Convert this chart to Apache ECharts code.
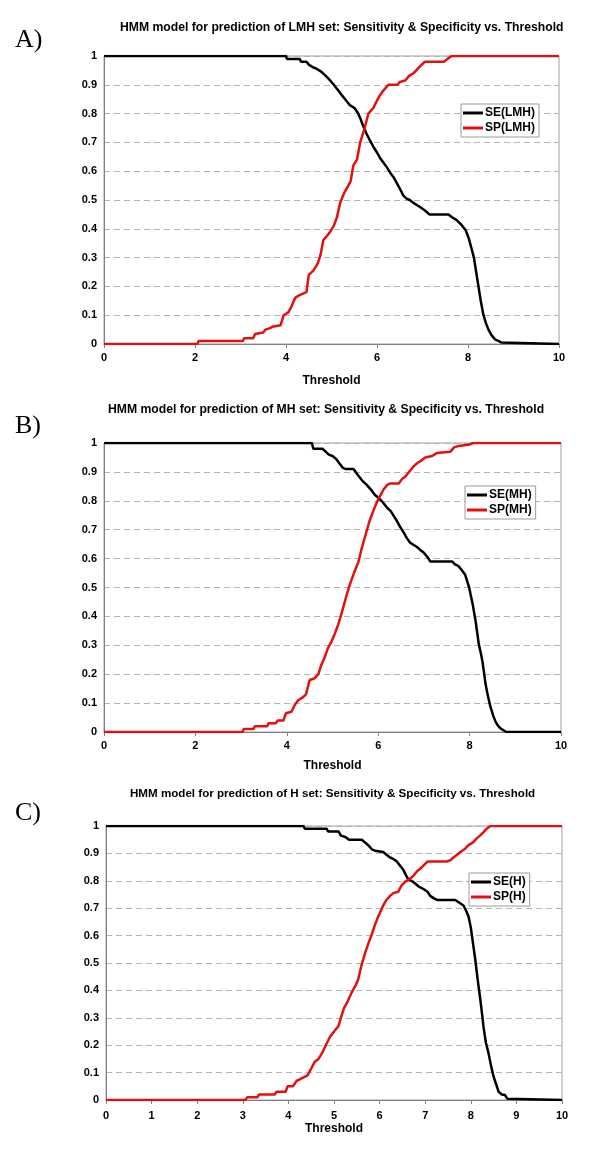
<!DOCTYPE html>
<html>
<head>
<meta charset="utf-8">
<script src="https://cdn.jsdelivr.net/npm/echarts@6/dist/echarts.min.js"></script>
<style>
html,body{margin:0;padding:0;background:#fff;}
#c{width:600px;height:1162px;}
</style>
</head>
<body>
<div id="c"></div>
<script>
// ---- Data (threshold, value) ----
const titles = [
  'HMM model for prediction of LMH set: Sensitivity & Specificity vs. Threshold',
  'HMM model for prediction of MH set: Sensitivity & Specificity vs. Threshold',
  'HMM model for prediction of H set: Sensitivity & Specificity vs. Threshold'
];
const panelLabels = ['A)', 'B)', 'C)'];
const seNames = ['SE(LMH)', 'SE(MH)', 'SE(H)'];
const spNames = ['SP(LMH)', 'SP(MH)', 'SP(H)'];
const xAxisName = 'Threshold';
const xIntervals = [2, 2, 1];

const seLMH = [[0,1],[4.0,1],[4.02,0.99],[4.3,0.99],[4.33,0.98],[4.45,0.98],[4.5,0.97],[4.6,0.96],[4.68,0.955],[4.78,0.945],[4.88,0.93],[4.97,0.915],[5.05,0.90],[5.15,0.88],[5.22,0.865],[5.3,0.85],[5.4,0.83],[5.5,0.82],[5.57,0.805],[5.63,0.785],[5.7,0.755],[5.77,0.73],[5.85,0.705],[5.92,0.685],[6.0,0.665],[6.07,0.645],[6.14,0.63],[6.21,0.615],[6.29,0.595],[6.36,0.58],[6.43,0.56],[6.5,0.54],[6.58,0.515],[6.65,0.505],[6.72,0.50],[6.8,0.49],[6.9,0.48],[7.0,0.47],[7.08,0.46],[7.15,0.45],[7.57,0.45],[7.65,0.44],[7.75,0.43],[7.85,0.415],[7.95,0.395],[8.02,0.365],[8.08,0.33],[8.13,0.30],[8.18,0.25],[8.23,0.20],[8.28,0.15],[8.34,0.10],[8.4,0.07],[8.45,0.05],[8.52,0.03],[8.6,0.015],[8.68,0.01],[8.73,0.005],[8.76,0],[10,0]];
const spLMH = [[0,0],[2.05,0],[2.08,0.01],[3.05,0.01],[3.08,0.02],[3.28,0.02],[3.32,0.035],[3.5,0.04],[3.55,0.05],[3.65,0.055],[3.7,0.06],[3.88,0.065],[3.95,0.10],[4.05,0.11],[4.12,0.13],[4.2,0.16],[4.3,0.17],[4.45,0.18],[4.5,0.24],[4.6,0.255],[4.7,0.28],[4.76,0.31],[4.82,0.36],[4.95,0.385],[5.05,0.41],[5.12,0.44],[5.19,0.49],[5.28,0.525],[5.35,0.545],[5.42,0.565],[5.48,0.62],[5.56,0.64],[5.63,0.70],[5.72,0.745],[5.81,0.80],[5.92,0.82],[6.0,0.845],[6.05,0.86],[6.14,0.88],[6.25,0.90],[6.45,0.90],[6.5,0.91],[6.62,0.915],[6.7,0.93],[6.8,0.94],[6.95,0.965],[7.05,0.98],[7.47,0.98],[7.55,0.99],[7.64,1],[10,1]];
const seMH = [[0,1],[4.55,1],[4.58,0.98],[4.78,0.98],[4.85,0.97],[4.92,0.96],[5.0,0.955],[5.08,0.945],[5.15,0.93],[5.22,0.915],[5.28,0.91],[5.46,0.91],[5.55,0.89],[5.65,0.87],[5.75,0.855],[5.86,0.835],[5.93,0.82],[6.01,0.81],[6.1,0.795],[6.2,0.775],[6.27,0.765],[6.35,0.745],[6.41,0.73],[6.48,0.71],[6.56,0.69],[6.63,0.67],[6.7,0.655],[6.85,0.64],[6.92,0.63],[7.0,0.62],[7.08,0.605],[7.14,0.59],[7.62,0.59],[7.68,0.58],[7.75,0.575],[7.83,0.56],[7.9,0.545],[7.95,0.52],[7.99,0.50],[8.03,0.47],[8.07,0.44],[8.13,0.385],[8.17,0.34],[8.2,0.305],[8.25,0.27],[8.28,0.245],[8.32,0.20],[8.35,0.165],[8.4,0.125],[8.46,0.085],[8.52,0.055],[8.57,0.035],[8.63,0.02],[8.68,0.012],[8.75,0.005],[8.8,0],[10,0]];
const spMH = [[0,0],[3.03,0],[3.06,0.01],[3.27,0.01],[3.3,0.02],[3.57,0.02],[3.6,0.03],[3.76,0.03],[3.8,0.04],[3.93,0.04],[3.98,0.065],[4.1,0.07],[4.18,0.095],[4.25,0.11],[4.35,0.12],[4.42,0.13],[4.5,0.18],[4.6,0.185],[4.69,0.20],[4.75,0.23],[4.82,0.255],[4.9,0.29],[4.97,0.31],[5.05,0.34],[5.12,0.37],[5.17,0.395],[5.25,0.44],[5.32,0.48],[5.39,0.515],[5.47,0.55],[5.57,0.59],[5.63,0.63],[5.72,0.68],[5.8,0.725],[5.88,0.76],[5.97,0.795],[6.05,0.82],[6.12,0.84],[6.2,0.855],[6.26,0.86],[6.45,0.86],[6.52,0.875],[6.6,0.885],[6.7,0.905],[6.78,0.92],[6.85,0.93],[6.95,0.94],[7.03,0.95],[7.18,0.955],[7.28,0.965],[7.58,0.97],[7.66,0.985],[7.76,0.99],[8.0,0.995],[8.08,1],[10,1]];
const seH = [[0,1],[4.33,1],[4.36,0.99],[4.84,0.99],[4.87,0.98],[5.1,0.98],[5.15,0.965],[5.25,0.96],[5.33,0.95],[5.61,0.95],[5.68,0.94],[5.75,0.93],[5.83,0.915],[5.9,0.91],[6.08,0.905],[6.15,0.895],[6.23,0.885],[6.3,0.88],[6.38,0.87],[6.45,0.855],[6.52,0.84],[6.58,0.82],[6.63,0.805],[6.7,0.80],[6.78,0.79],[6.85,0.78],[6.96,0.77],[7.05,0.76],[7.11,0.745],[7.2,0.735],[7.27,0.73],[7.66,0.73],[7.75,0.72],[7.84,0.71],[7.9,0.69],[7.95,0.67],[8.0,0.63],[8.05,0.57],[8.1,0.51],[8.15,0.44],[8.21,0.365],[8.25,0.31],[8.28,0.265],[8.33,0.21],[8.39,0.17],[8.45,0.12],[8.5,0.085],[8.56,0.055],[8.61,0.03],[8.68,0.02],[8.75,0.018],[8.8,0.005],[8.83,0],[10,0]];
const spH = [[0,0],[3.05,0],[3.1,0.01],[3.32,0.01],[3.36,0.02],[3.7,0.02],[3.74,0.03],[3.94,0.03],[3.98,0.05],[4.1,0.05],[4.18,0.07],[4.3,0.08],[4.42,0.09],[4.5,0.115],[4.58,0.14],[4.66,0.15],[4.75,0.175],[4.82,0.20],[4.91,0.23],[5.0,0.25],[5.1,0.27],[5.15,0.30],[5.22,0.335],[5.3,0.36],[5.38,0.39],[5.48,0.42],[5.53,0.44],[5.6,0.49],[5.68,0.535],[5.75,0.57],[5.83,0.605],[5.9,0.64],[5.97,0.67],[6.08,0.71],[6.15,0.73],[6.23,0.745],[6.3,0.755],[6.41,0.76],[6.47,0.78],[6.55,0.795],[6.67,0.808],[6.75,0.82],[6.82,0.835],[6.9,0.845],[6.96,0.855],[7.05,0.87],[7.47,0.87],[7.55,0.875],[7.62,0.885],[7.7,0.895],[7.77,0.905],[7.86,0.915],[7.95,0.93],[8.05,0.94],[8.13,0.955],[8.2,0.965],[8.28,0.978],[8.35,0.99],[8.43,1],[10,1]];

const seSeries = [seLMH, seMH, seH];
const spSeries = [spLMH, spMH, spH];

// ---- Layout ----
const grids = [
  {left:104, top:56, width:455, height:288},
  {left:104, top:443, width:457, height:289},
  {left:106, top:826, width:456, height:274}
];
const titlePos = [{left:120, top:22, size:12.2}, {left:108, top:404, size:12.2}, {left:130, top:788, size:11.6}];
const legendPos = [{left:461, top:104}, {left:465, top:486}, {left:469, top:873}];
const labelPos = [{left:15, top:27}, {left:15, top:413}, {left:15, top:800}];
const nameGaps = [31, 28, 23];
const labelMargins = [8, 8, 10];

const BLACK = '#000000', RED = '#e3100f';
const font = 'Arial, "Liberation Sans", sans-serif';

const option = {
  backgroundColor: '#fff',
  animation: false,
  title: titles.map((t, i) => ({
    text: t, left: titlePos[i].left, top: titlePos[i].top, padding: 0,
    textStyle: {fontFamily: font, fontWeight: 'bold', fontSize: titlePos[i].size, color: '#000'}
  })),
  legend: [0,1,2].map(i => ({
    data: [seNames[i], spNames[i]],
    left: legendPos[i].left, top: legendPos[i].top,
    orient: 'vertical', itemGap: 3, itemWidth: 20, itemHeight: 3,
    icon: 'rect', padding: [3, 4, 3, 2],
    borderColor: '#9a9a9a', borderWidth: 1, backgroundColor: '#fff',
    textStyle: {fontFamily: font, fontWeight: 'bold', fontSize: 12, color: '#000', padding:[0,0,0,-3]},
    selectedMode: false
  })),
  graphic: panelLabels.map((t, i) => ({
    type: 'text', left: labelPos[i].left, top: labelPos[i].top,
    style: {text: t, fontFamily: '"Liberation Serif", "Times New Roman", serif', fontSize: 26, fill: '#000'}
  })),
  grid: grids.map(g => ({...g, show: true, borderColor: '#a0a0a0', borderWidth: 1, containLabel: false})),
  xAxis: [0,1,2].map(i => ({
    type: 'value', gridIndex: i, min: 0, max: 10, interval: xIntervals[i],
    name: xAxisName, nameLocation: 'middle', nameGap: nameGaps[i],
    nameTextStyle: {fontFamily: font, fontWeight: 'bold', fontSize: 12, color: '#000'},
    axisLine: {show: true, lineStyle: {color: '#808080', width: 1}},
    axisTick: {show: true, length: 4, lineStyle: {color: '#808080'}},
    axisLabel: {fontFamily: font, fontWeight: 'bold', fontSize: 11, color: '#000', margin: labelMargins[i]},
    splitLine: {show: false}
  })),
  yAxis: [0,1,2].map(i => ({
    type: 'value', gridIndex: i, min: 0, max: 1, interval: 0.1,
    axisLine: {show: true, lineStyle: {color: '#808080', width: 1}},
    axisTick: {show: false},
    axisLabel: {fontFamily: font, fontWeight: 'bold', fontSize: 11, color: '#000', margin: 7,
      formatter: v => (Math.abs(v) < 1e-9 ? '0' : Math.abs(v - 1) < 1e-9 ? '1' : v.toFixed(1))},
    splitLine: {show: true, lineStyle: {color: '#b4b4b4', type: [6, 4], width: 1}}
  })),
  series: [0,1,2].flatMap(i => ([
    {name: seNames[i], type: 'line', xAxisIndex: i, yAxisIndex: i, data: seSeries[i],
     showSymbol: false, symbol: 'none', lineStyle: {color: BLACK, width: 2.5}, itemStyle: {color: BLACK}, z: 3},
    {name: spNames[i], type: 'line', xAxisIndex: i, yAxisIndex: i, data: spSeries[i],
     showSymbol: false, symbol: 'none', lineStyle: {color: RED, width: 2.5}, itemStyle: {color: RED}, z: 4}
  ]))
};

const chart = echarts.init(document.getElementById('c'), null, {renderer: 'canvas'});
chart.setOption(option);
</script>
</body>
</html>
